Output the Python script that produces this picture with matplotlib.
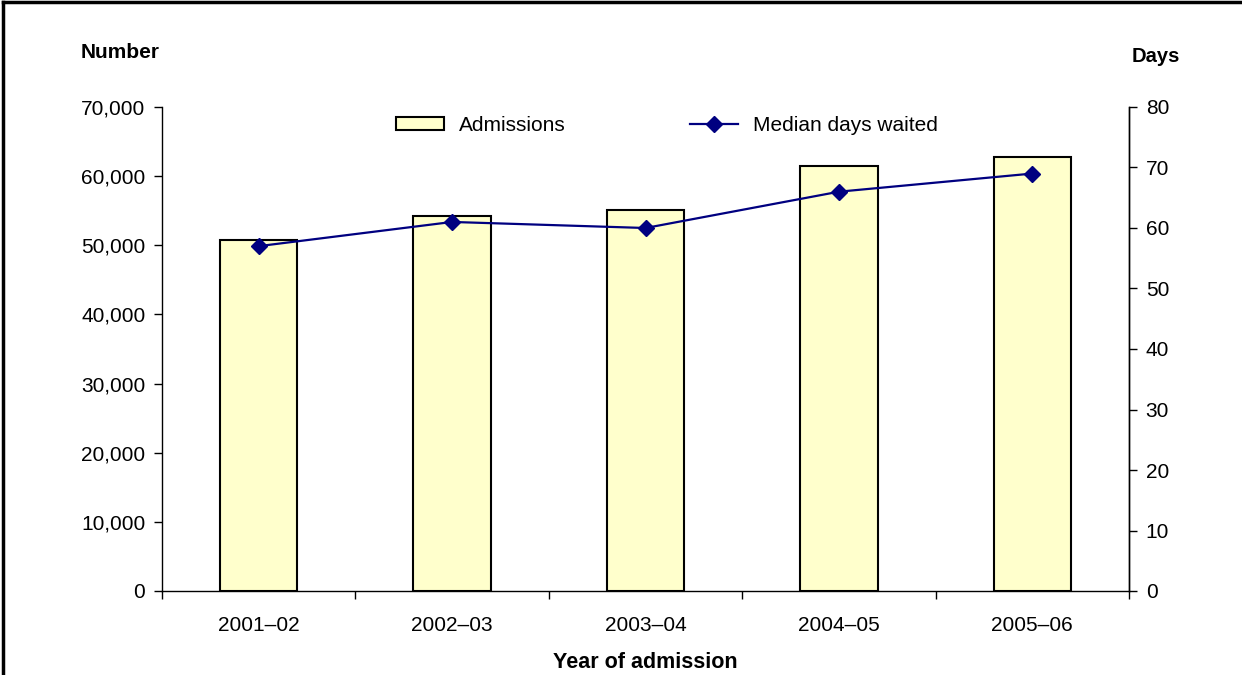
import numpy as np
import matplotlib.pyplot as plt
from matplotlib.lines import Line2D
from matplotlib.ticker import FuncFormatter, FixedLocator

plt.rcParams['font.family'] = ['Liberation Sans', 'DejaVu Sans']

# Admissions and median waiting times by year
years = ['2001\u201302', '2002\u201303', '2003\u201304', '2004\u201305', '2005\u201306']
admissions = [50800, 54300, 55100, 61400, 62800]
median_days = [57, 61, 60, 66, 69]

fig = plt.figure(figsize=(12.42, 6.75), dpi=100)
ax = fig.add_axes([162 / 1242, 1 - 591 / 675, (1129 - 162) / 1242, (591 - 107) / 675])
ax2 = ax.twinx()

x = np.arange(len(years))
bars = ax.bar(x, admissions, width=0.4, color='#FFFFCC', edgecolor='black',
              linewidth=1.5, label='Admissions', zorder=2)
line, = ax2.plot(x, median_days, color='#000080', linewidth=1.6, marker='D',
                 markersize=8, label='Median days waited', zorder=3)

ax.set_xlim(-0.5, len(years) - 0.5)
ax.set_ylim(0, 70000)
ax.set_yticks(np.arange(0, 70001, 10000))
ax.yaxis.set_major_formatter(FuncFormatter(lambda v, p: f'{int(v):,}'))
ax2.set_ylim(0, 80)
ax2.set_yticks(np.arange(0, 81, 10))

# category labels centred, tick marks between categories
ax.xaxis.set_major_locator(FixedLocator(np.arange(-0.5, len(years), 1.0)))
ax.xaxis.set_major_formatter(FuncFormatter(lambda v, p: ''))
ax.xaxis.set_minor_locator(FixedLocator(x))
ax.set_xticklabels(years, minor=True)
ax.tick_params(axis='x', which='minor', length=0, pad=18, labelsize=15)
ax.tick_params(axis='x', which='major', length=6, width=1, direction='out')
ax.tick_params(axis='y', length=6, width=1, labelsize=15, pad=6)
ax2.tick_params(axis='y', length=6, width=1, labelsize=15, pad=6)

for a in (ax, ax2):
    a.spines['top'].set_visible(False)
    for s in ('left', 'right', 'bottom'):
        a.spines[s].set_linewidth(1)
ax2.spines['bottom'].set_visible(False)
ax2.spines['left'].set_visible(False)
ax.set_zorder(1)
ax2.set_zorder(2)
ax.patch.set_visible(False)

ax2.legend([bars, line], ['Admissions', 'Median days waited'], loc='upper center',
           bbox_to_anchor=(0.522, 1.02), ncol=2, frameon=False, fontsize=15,
           handlelength=2.3, handleheight=0.6, columnspacing=6, handletextpad=0.7)

fig.text(120 / 1242, 1 - 53 / 675, 'Number', fontsize=15, fontweight='bold',
         ha='center', va='center')
fig.text(1156 / 1242, 1 - 57 / 675, 'Days', fontsize=14.5, fontweight='bold',
         ha='center', va='center')
fig.text(645 / 1242, 1 - 662 / 675, 'Year of admission', fontsize=15.5,
         fontweight='bold', ha='center', va='center')

# outer frame, top and left edges
fig.add_artist(Line2D([3 / 1242, 1], [1 - 2 / 675, 1 - 2 / 675], color='black',
                      linewidth=2.5, transform=fig.transFigure))
fig.add_artist(Line2D([3 / 1242, 3 / 1242], [0, 1 - 2 / 675], color='black',
                      linewidth=2.5, transform=fig.transFigure))

fig.savefig('out.png', dpi=100)
